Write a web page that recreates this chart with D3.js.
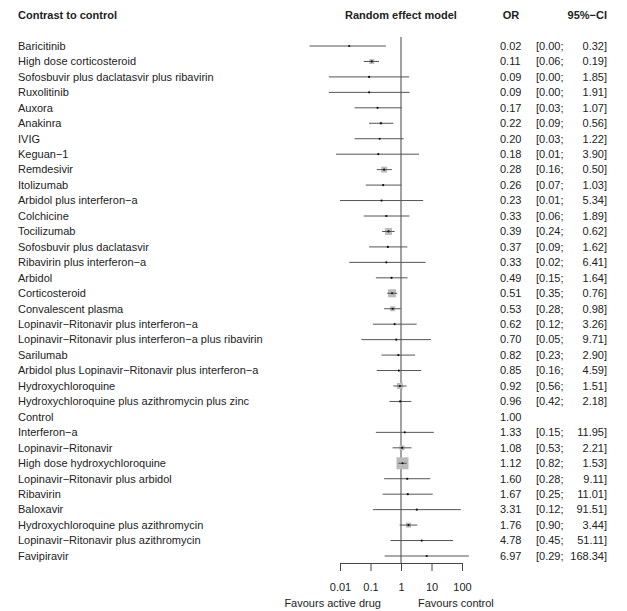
<!DOCTYPE html>
<html lang="en">
<head>
<meta charset="UTF-8">
<title>forest plot</title>
<script src="https://cdn.jsdelivr.net/npm/d3@7"></script>
<style>
	body { margin: 0; background: #fff; }
	text { font-family: "Liberation Sans", Arial, sans-serif; fill: #222; }
</style>
</head>
<body>
<script>
	// treatments, top to bottom
	var drugs = ['Baricitinib', 'High dose corticosteroid', 'Sofosbuvir plus daclatasvir plus ribavirin',
		'Ruxolitinib', 'Auxora', 'Anakinra', 'IVIG', 'Keguan−1', 'Remdesivir', 'Itolizumab',
		'Arbidol plus interferon−a', 'Colchicine', 'Tocilizumab', 'Sofosbuvir plus daclatasvir',
		'Ribavirin plus interferon−a', 'Arbidol', 'Corticosteroid', 'Convalescent plasma',
		'Lopinavir−Ritonavir plus interferon−a', 'Lopinavir−Ritonavir plus interferon−a plus ribavirin',
		'Sarilumab', 'Arbidol plus Lopinavir−Ritonavir plus interferon−a', 'Hydroxychloroquine',
		'Hydroxychloroquine plus azithromycin plus zinc', 'Control', 'Interferon−a', 'Lopinavir−Ritonavir',
		'High dose hydroxychloroquine', 'Lopinavir−Ritonavir plus arbidol', 'Ribavirin', 'Baloxavir',
		'Hydroxychloroquine plus azithromycin', 'Lopinavir−Ritonavir plus azithromycin', 'Favipiravir'];

	var oddsRatio = [0.02, 0.11, 0.09, 0.09, 0.17, 0.22, 0.20, 0.18, 0.28, 0.26, 0.23, 0.33, 0.39, 0.37,
		0.33, 0.49, 0.51, 0.53, 0.62, 0.70, 0.82, 0.85, 0.92, 0.96, 1.00, 1.33, 1.08, 1.12, 1.60, 1.67,
		3.31, 1.76, 4.78, 6.97];
	var lower = [0.001, 0.06, 0.0043, 0.0043, 0.03, 0.09, 0.03, 0.0074, 0.16, 0.07, 0.01, 0.06, 0.24, 0.09,
		0.02, 0.15, 0.35, 0.28, 0.12, 0.05, 0.23, 0.16, 0.56, 0.42, null, 0.15, 0.53, 0.82, 0.28, 0.25,
		0.12, 0.90, 0.45, 0.29];
	var upper = [0.32, 0.19, 1.85, 1.91, 1.07, 0.56, 1.22, 3.90, 0.50, 1.03, 5.34, 1.89, 0.62, 1.62,
		6.41, 1.64, 0.76, 0.98, 3.26, 9.71, 2.90, 4.59, 1.51, 2.18, null, 11.95, 2.21, 1.53, 9.11, 11.01,
		91.51, 3.44, 51.11, 168.34];
	// relative weight of each comparison (square size)
	var weight = [0, 5, 0, 0, 0, 3, 0, 0, 6, 2, 0, 2, 7, 2, 0, 2, 8, 5, 0, 0, 2, 0, 6, 3, 0, 0, 5,
		12, 2, 0, 0, 5, 0, 0];
	var ticks = [0.01, 0.1, 1, 10, 100];

	var width = 627, height = 611;
	var svg = d3.select('body').append('svg')
		.attr('width', width)
		.attr('height', height);

	var x = d3.scaleLog().domain([0.01, 100]).range([340, 462]);
	var y = d3.scaleLinear().domain([0, drugs.length - 1]).range([46, 556]);

	var rows = drugs.map((d, i) => ({
		name: d, or: oddsRatio[i], lo: lower[i], hi: upper[i], w: weight[i], i: i
	}));

	// headers
	var head = svg.append('g').attr('font-weight', 'bold').attr('font-size', 11);
	head.append('text').attr('x', 18).attr('y', 19).text('Contrast to control');
	head.append('text').attr('x', x(1)).attr('y', 19).attr('text-anchor', 'middle').text('Random effect model');
	head.append('text').attr('x', 511).attr('y', 19).attr('text-anchor', 'middle').text('OR');
	head.append('text').attr('x', 607).attr('y', 19).attr('text-anchor', 'end').text('95%−CI');

	// reference line at OR = 1
	svg.append('line')
		.attr('x1', x(1)).attr('x2', x(1))
		.attr('y1', 37).attr('y2', 563)
		.attr('stroke', '#444');

	var row = svg.selectAll('g.row')
		.data(rows)
		.enter().append('g')
		.attr('class', 'row')
		.attr('transform', d => `translate(0,${y(d.i)})`);

	row.append('text')
		.attr('x', 18).attr('dy', '0.35em')
		.attr('font-size', 11)
		.text(d => d.name);

	var est = row.filter(d => d.lo != null);

	est.append('rect')
		.attr('x', d => x(d.or) - d.w / 2)
		.attr('y', d => -d.w / 2)
		.attr('width', d => d.w)
		.attr('height', d => d.w)
		.attr('fill', '#bbb');

	est.append('line')
		.attr('x1', d => x(d.lo)).attr('x2', d => x(d.hi))
		.attr('stroke', '#555');

	est.append('circle')
		.attr('cx', d => x(d.or))
		.attr('r', 1.1)
		.attr('fill', '#111');

	row.append('text')
		.attr('x', 500).attr('dy', '0.35em')
		.attr('font-size', 11)
		.text(d => d.or.toFixed(2));

	est.append('text')
		.attr('x', 536).attr('dy', '0.35em')
		.attr('font-size', 11)
		.text(d => '[' + d.lo.toFixed(2) + ';');

	est.append('text')
		.attr('x', 607).attr('dy', '0.35em')
		.attr('text-anchor', 'end')
		.attr('font-size', 11)
		.text(d => d.hi.toFixed(2) + ']');

	// axis
	var xAxis = d3.axisBottom(x)
		.tickValues(ticks)
		.tickFormat(d => String(d))
		.tickSize(8)
		.tickSizeOuter(0)
		.tickPadding(12);

	var axis = svg.append('g')
		.attr('transform', 'translate(0,563)')
		.call(xAxis);
	axis.selectAll('text').attr('font-size', 11).attr('fill', '#222')
		.style('font-family', '"Liberation Sans", Arial, sans-serif');
	axis.selectAll('line, path').attr('stroke', '#444');

	svg.append('text').attr('x', 381).attr('y', 607)
		.attr('text-anchor', 'end').attr('font-size', 11).text('Favours active drug');
	svg.append('text').attr('x', 418).attr('y', 607)
		.attr('font-size', 11).text('Favours control');
</script>
</body>
</html>
